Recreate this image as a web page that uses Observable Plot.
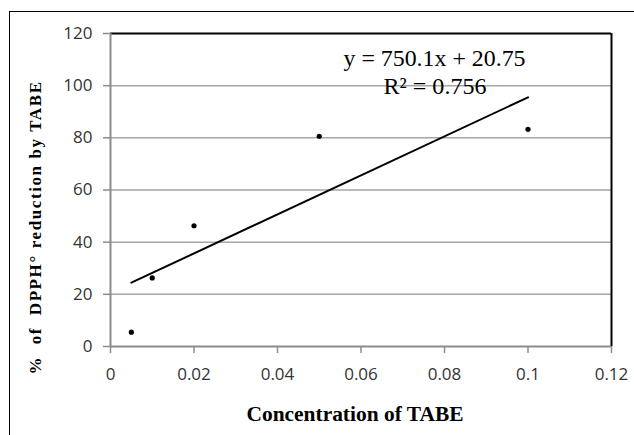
<!DOCTYPE html>
<html>
<head>
<meta charset="utf-8">
<script src="https://cdn.jsdelivr.net/npm/d3@7"></script>
<script src="https://cdn.jsdelivr.net/npm/@observablehq/plot@0.6"></script>
<style>
  html, body { margin: 0; padding: 0; background: #fff; }
  #wrap { position: relative; width: 634px; height: 435px; overflow: hidden; }
  #border { position: absolute; left: 9px; top: 11px; width: 700px; height: 500px;
            border-top: 1.5px solid #000; border-left: 1.5px solid #000; pointer-events: none; }
</style>
</head>
<body>
<div id="wrap"><div id="border"></div></div>
<script>
// Data
const concentration = [0.005, 0.01, 0.02, 0.05, 0.1];
const reduction = [5.5, 26.3, 46.3, 80.6, 83.3];
const xTicks = [0, 0.02, 0.04, 0.06, 0.08, 0.1, 0.12];
const xTickLabels = ["0", "0.02", "0.04", "0.06", "0.08", "0.1", "0.12"];
const yTicks = [0, 20, 40, 60, 80, 100, 120];
const gridValues = [20, 40, 60, 80, 100];
const xLabel = ["Concentration of TABE"];
const yLabel = ["%  of  DPPH° reduction by TABE"];
const equationText = ["y = 750.1x + 20.75"];
const r2Text = ["R² = 0.756"];

const data = concentration.map((c, i) => ({c, r: reduction[i]}));

const chart = Plot.plot({
  width: 634,
  height: 435,
  marginLeft: 110,
  marginRight: 23,
  marginTop: 33,
  marginBottom: 89,
  style: {background: "transparent", fontFamily: "'Open Sans', sans-serif"},
  x: {domain: [0, 0.12]},
  y: {domain: [0, 120]},
  marks: [
    Plot.ruleY(gridValues, {stroke: "#a6a6a6", strokeWidth: 1.5}),
    Plot.ruleY([120], {stroke: "#000", strokeWidth: 2}),
    Plot.ruleX([0.12], {stroke: "#000", strokeWidth: 2}),
    Plot.ruleX([0], {stroke: "#8c8c8c", strokeWidth: 2}),
    Plot.ruleY([0], {stroke: "#8c8c8c", strokeWidth: 2}),
    Plot.axisY({ticks: yTicks, tickSize: 7, tickPadding: 11, stroke: "#8c8c8c", strokeWidth: 1.5,
                fill: "#333", fontSize: 17, label: null}),
    Plot.axisX({ticks: xTicks, tickFormat: (d, i) => xTickLabels[i], tickSize: 7, tickPadding: 14,
                stroke: "#8c8c8c", strokeWidth: 1.5, fill: "#333", fontSize: 17, label: null}),
    Plot.linearRegressionY(data, {x: "c", y: "r", ci: 0, stroke: "#000", strokeWidth: 2}),
    Plot.dot(data, {x: "c", y: "r", r: 2.6, fill: "#000", stroke: null}),
    Plot.text(equationText, {frameAnchor: "top", dx: 73.5, dy: 16, fontSize: 23,
              fontFamily: "'Liberation Serif', serif", fill: "#000"}),
    Plot.text(r2Text, {frameAnchor: "top", dx: 74, dy: 44, fontSize: 23,
              fontFamily: "'Liberation Serif', serif", fill: "#000"}),
    Plot.text(xLabel, {frameAnchor: "bottom", dx: -6, dy: 74, fontSize: 20, fontWeight: "bold",
              fontFamily: "'Liberation Serif', serif", fill: "#000"}),
    Plot.text(yLabel, {frameAnchor: "left", textAnchor: "middle", rotate: -90, dx: -75, dy: 37.5,
              fontSize: 17, fontWeight: "bold", fontFamily: "'Liberation Serif', serif", fill: "#000"})
  ]
});
chart.style.position = "absolute";
chart.style.left = "0px";
chart.style.top = "0px";
document.getElementById("wrap").prepend(chart);

// stretch texts to the measured lengths in the reference
chart.querySelectorAll("text").forEach(t => {
  if (t.textContent === xLabel[0]) { t.setAttribute("textLength", 217); t.setAttribute("lengthAdjust", "spacingAndGlyphs"); }
  if (t.textContent === yLabel[0]) { t.style.letterSpacing = "1.6px"; }
  if (t.textContent === equationText[0]) { t.setAttribute("textLength", 182); t.setAttribute("lengthAdjust", "spacingAndGlyphs"); }
  if (t.textContent === r2Text[0]) { t.setAttribute("textLength", 103); t.setAttribute("lengthAdjust", "spacingAndGlyphs"); }
});
</script>
</body>
</html>
